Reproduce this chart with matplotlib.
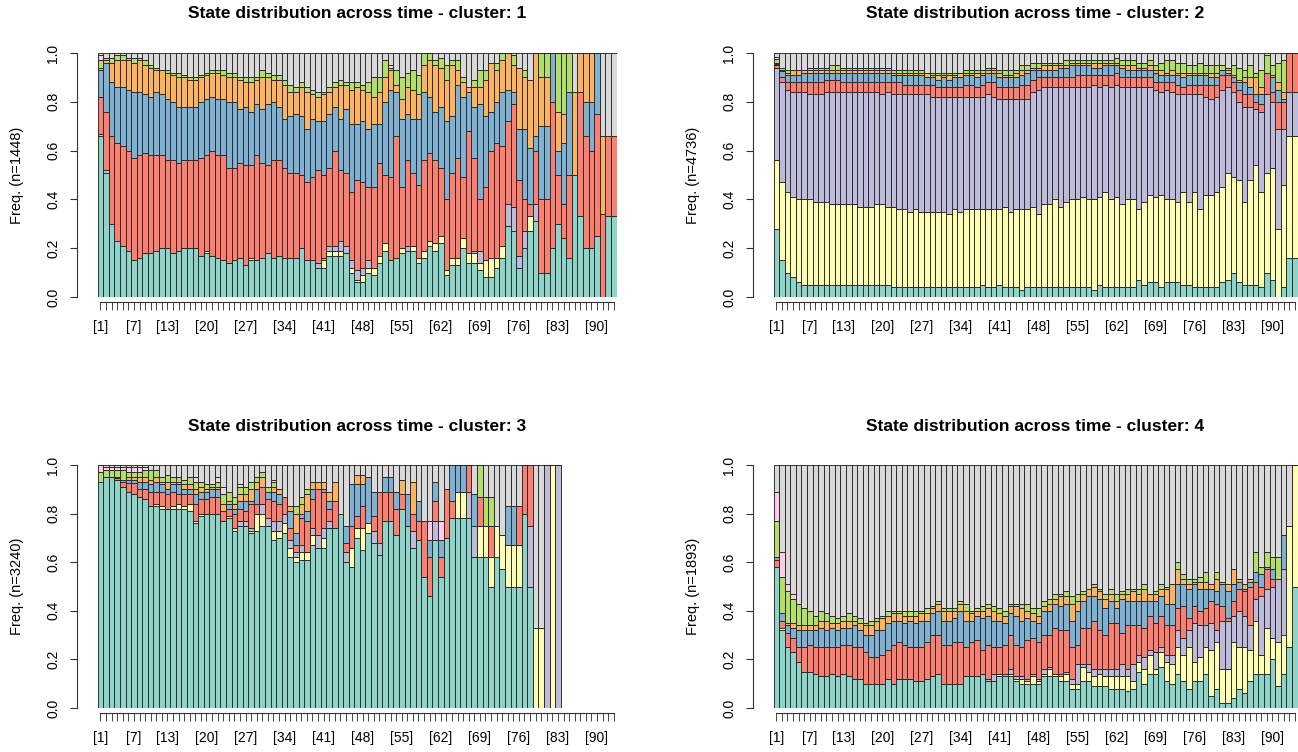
import numpy as np
import matplotlib
matplotlib.use('Agg')
import matplotlib.pyplot as plt

plt.rcParams['font.family'] = ['Liberation Sans', 'DejaVu Sans']

# Set3 colours, stacking order bottom -> top (last one = grey, fills up to 1)
COLORS = ['#8DD3C7', '#FFFFB3', '#BEBADA', '#FB8072', '#80B1D3',
          '#FDB462', '#B3DE69', '#FCCDE5', '#D9D9D9']
EDGE = '#262626'

TICK_LABELS = [1, 7, 13, 20, 27, 34, 41, 48, 55, 62, 69, 76, 83, 90]

# ---- cluster 1 (n=1448): cumulative upper edge of each state per time point ----
p1_teal = [0.66, 0.51, 0.30, 0.23, 0.21, 0.19, 0.15, 0.16, 0.18, 0.18,
           0.19, 0.20, 0.20, 0.18, 0.19, 0.20, 0.20, 0.20, 0.17, 0.18,
           0.17, 0.16, 0.15, 0.14, 0.15, 0.16, 0.13, 0.15, 0.15, 0.16,
           0.18, 0.16, 0.17, 0.16, 0.16, 0.16, 0.20, 0.15, 0.15, 0.12,
           0.12, 0.17, 0.17, 0.17, 0.18, 0.10, 0.06, 0.06, 0.10, 0.09,
           0.14, 0.19, 0.15, 0.16, 0.18, 0.19, 0.19, 0.14, 0.16, 0.21,
           0.19, 0.22, 0.09, 0.13, 0.13, 0.20, 0.14, 0.14, 0.11, 0.08,
           0.08, 0.12, 0.16, 0.29, 0.27, 0.12, 0.20, 0.27, 0.31, 0.10,
           0.10, 0.20, 0.30, 0.24, 0.16, 0.50, 0.33, 0.20, 0.20, 0.25,
           0.00, 0.33, 0.33]
p1_yellow = [0.66, 0.51, 0.30, 0.23, 0.21, 0.19, 0.15, 0.16, 0.18, 0.18,
             0.19, 0.20, 0.20, 0.18, 0.19, 0.20, 0.20, 0.20, 0.17, 0.19,
             0.17, 0.16, 0.15, 0.14, 0.15, 0.16, 0.13, 0.16, 0.15, 0.16,
             0.18, 0.16, 0.17, 0.16, 0.16, 0.16, 0.20, 0.15, 0.15, 0.12,
             0.15, 0.19, 0.19, 0.19, 0.18, 0.12, 0.07, 0.09, 0.12, 0.12,
             0.17, 0.22, 0.15, 0.16, 0.20, 0.19, 0.21, 0.16, 0.19, 0.23,
             0.22, 0.25, 0.11, 0.16, 0.16, 0.24, 0.18, 0.18, 0.14, 0.15,
             0.16, 0.16, 0.21, 0.29, 0.27, 0.12, 0.20, 0.33, 0.31, 0.10,
             0.10, 0.20, 0.30, 0.24, 0.16, 0.50, 0.33, 0.20, 0.20, 0.25,
             0.00, 0.33, 0.33]
p1_lavender = [0.67, 0.52, 0.30, 0.23, 0.21, 0.19, 0.15, 0.16, 0.18, 0.18,
               0.19, 0.20, 0.20, 0.18, 0.19, 0.20, 0.20, 0.20, 0.17, 0.19,
               0.17, 0.16, 0.15, 0.14, 0.15, 0.16, 0.13, 0.16, 0.15, 0.16,
               0.18, 0.16, 0.17, 0.16, 0.16, 0.16, 0.20, 0.15, 0.15, 0.14,
               0.16, 0.21, 0.21, 0.23, 0.21, 0.15, 0.11, 0.12, 0.15, 0.12,
               0.17, 0.22, 0.15, 0.16, 0.20, 0.21, 0.21, 0.16, 0.19, 0.23,
               0.22, 0.25, 0.11, 0.16, 0.16, 0.24, 0.18, 0.19, 0.19, 0.15,
               0.16, 0.16, 0.21, 0.38, 0.37, 0.17, 0.27, 0.33, 0.38, 0.10,
               0.10, 0.20, 0.30, 0.24, 0.16, 0.50, 0.33, 0.20, 0.20, 0.25,
               0.00, 0.33, 0.33]
p1_red = [0.82, 0.76, 0.66, 0.63, 0.62, 0.60, 0.57, 0.58, 0.59, 0.58,
          0.58, 0.58, 0.56, 0.56, 0.55, 0.56, 0.56, 0.56, 0.57, 0.58,
          0.60, 0.58, 0.58, 0.53, 0.53, 0.55, 0.54, 0.54, 0.58, 0.55,
          0.54, 0.56, 0.56, 0.53, 0.51, 0.51, 0.50, 0.47, 0.49, 0.52,
          0.50, 0.53, 0.60, 0.52, 0.51, 0.43, 0.48, 0.47, 0.45, 0.45,
          0.55, 0.50, 0.49, 0.66, 0.45, 0.56, 0.51, 0.46, 0.56, 0.59,
          0.56, 0.53, 0.40, 0.51, 0.57, 0.49, 0.68, 0.57, 0.40, 0.45,
          0.60, 0.63, 0.62, 0.72, 0.79, 0.48, 0.40, 0.38, 0.60, 0.40,
          0.40, 0.80, 0.50, 0.38, 0.50, 0.50, 0.84, 0.66, 0.60, 0.75,
          0.34, 0.66, 0.66]
p1_blue = [0.93, 0.96, 0.88, 0.86, 0.86, 0.85, 0.84, 0.84, 0.83, 0.82,
           0.84, 0.83, 0.81, 0.80, 0.78, 0.78, 0.78, 0.78, 0.80, 0.81,
           0.82, 0.81, 0.81, 0.80, 0.80, 0.77, 0.78, 0.76, 0.79, 0.77,
           0.79, 0.80, 0.78, 0.73, 0.74, 0.75, 0.74, 0.69, 0.73, 0.72,
           0.72, 0.75, 0.78, 0.73, 0.77, 0.71, 0.71, 0.72, 0.69, 0.71,
           0.71, 0.80, 0.85, 0.84, 0.73, 0.75, 0.73, 0.73, 0.84, 0.82,
           0.76, 0.78, 0.72, 0.74, 0.87, 0.82, 0.84, 0.78, 0.79, 0.74,
           0.76, 0.80, 0.84, 0.85, 0.84, 0.69, 0.69, 0.61, 0.66, 0.70,
           0.70, 1.00, 0.60, 0.63, 0.84, 0.50, 0.84, 0.80, 0.80, 1.00,
           0.34, 0.66, 0.66]
p1_orange = [0.94, 0.97, 0.96, 0.97, 0.97, 0.97, 0.96, 0.97, 0.95, 0.94,
             0.93, 0.93, 0.92, 0.91, 0.90, 0.90, 0.89, 0.89, 0.90, 0.91,
             0.92, 0.92, 0.91, 0.90, 0.90, 0.89, 0.88, 0.88, 0.89, 0.90,
             0.90, 0.89, 0.89, 0.87, 0.84, 0.84, 0.86, 0.84, 0.83, 0.82,
             0.83, 0.84, 0.86, 0.87, 0.87, 0.85, 0.86, 0.85, 0.84, 0.82,
             0.84, 0.90, 0.93, 0.87, 0.81, 0.86, 0.85, 0.83, 0.95, 0.97,
             0.95, 0.94, 0.89, 0.95, 0.93, 0.88, 0.86, 0.86, 0.86, 0.89,
             0.96, 0.93, 0.97, 1.00, 0.95, 0.94, 0.90, 0.89, 1.00, 0.90,
             0.90, 1.00, 0.76, 0.75, 0.84, 0.84, 1.00, 1.00, 1.00, 1.00,
             0.66, 0.66, 0.66]
p1_green = [0.97, 0.98, 0.98, 0.99, 0.99, 0.98, 0.98, 0.98, 0.97, 0.95,
            0.94, 0.93, 0.93, 0.92, 0.92, 0.91, 0.90, 0.90, 0.91, 0.92,
            0.93, 0.93, 0.93, 0.92, 0.92, 0.90, 0.90, 0.90, 0.90, 0.93,
            0.92, 0.91, 0.91, 0.89, 0.87, 0.86, 0.88, 0.86, 0.85, 0.84,
            0.84, 0.86, 0.88, 0.89, 0.88, 0.88, 0.88, 0.87, 0.88, 0.90,
            0.90, 0.97, 0.94, 0.93, 0.90, 0.92, 0.93, 0.91, 1.00, 1.00,
            0.97, 0.98, 0.95, 0.97, 0.97, 0.90, 0.86, 0.89, 0.93, 0.93,
            0.96, 0.96, 1.00, 1.00, 0.99, 0.94, 0.93, 0.89, 1.00, 1.00,
            1.00, 1.00, 1.00, 1.00, 1.00, 0.84, 1.00, 1.00, 1.00, 1.00,
            0.66, 0.66, 0.66]
p1_pink = [0.99, 0.98, 0.98, 0.99, 0.99, 0.98, 0.98, 0.98, 0.97, 0.95,
           0.94, 0.93, 0.93, 0.92, 0.92, 0.91, 0.90, 0.90, 0.91, 0.92,
           0.93, 0.93, 0.93, 0.92, 0.92, 0.90, 0.90, 0.90, 0.90, 0.93,
           0.92, 0.91, 0.91, 0.89, 0.87, 0.86, 0.88, 0.86, 0.85, 0.84,
           0.84, 0.86, 0.88, 0.89, 0.88, 0.88, 0.88, 0.87, 0.88, 0.90,
           0.90, 0.97, 0.95, 0.93, 0.90, 0.92, 0.93, 0.91, 1.00, 1.00,
           0.97, 0.98, 0.95, 0.97, 0.97, 0.90, 0.86, 0.89, 0.93, 0.93,
           0.96, 0.96, 1.00, 1.00, 0.99, 0.94, 0.93, 0.89, 1.00, 1.00,
           1.00, 1.00, 1.00, 1.00, 1.00, 0.84, 1.00, 1.00, 1.00, 1.00,
           0.66, 0.66, 0.66]

# ---- cluster 2 (n=4736) ----
p2_teal = [0.28, 0.15, 0.10, 0.08, 0.06, 0.05, 0.05, 0.05, 0.05, 0.05,
           0.05, 0.05, 0.05, 0.05, 0.05, 0.05, 0.05, 0.05, 0.05, 0.05,
           0.05, 0.04, 0.04, 0.04, 0.04, 0.04, 0.04, 0.04, 0.04, 0.04,
           0.04, 0.04, 0.04, 0.04, 0.04, 0.04, 0.04, 0.05, 0.04, 0.04,
           0.05, 0.04, 0.04, 0.04, 0.03, 0.04, 0.04, 0.04, 0.04, 0.04,
           0.04, 0.04, 0.04, 0.04, 0.04, 0.04, 0.04, 0.03, 0.05, 0.04,
           0.04, 0.04, 0.04, 0.04, 0.04, 0.07, 0.05, 0.06, 0.06, 0.04,
           0.06, 0.06, 0.06, 0.05, 0.05, 0.04, 0.04, 0.04, 0.04, 0.04,
           0.06, 0.07, 0.10, 0.06, 0.05, 0.05, 0.05, 0.04, 0.10, 0.07,
           0.00, 0.04, 0.16, 0.16]
p2_yellow = [0.56, 0.47, 0.43, 0.41, 0.40, 0.40, 0.40, 0.39, 0.39, 0.39,
             0.38, 0.38, 0.38, 0.38, 0.38, 0.37, 0.37, 0.37, 0.38, 0.38,
             0.37, 0.37, 0.36, 0.36, 0.35, 0.36, 0.35, 0.35, 0.35, 0.35,
             0.35, 0.34, 0.36, 0.35, 0.36, 0.36, 0.36, 0.36, 0.36, 0.36,
             0.36, 0.37, 0.35, 0.36, 0.36, 0.36, 0.37, 0.34, 0.38, 0.38,
             0.40, 0.37, 0.39, 0.40, 0.40, 0.41, 0.40, 0.40, 0.41, 0.43,
             0.40, 0.41, 0.38, 0.40, 0.40, 0.36, 0.39, 0.42, 0.41, 0.42,
             0.40, 0.40, 0.39, 0.43, 0.39, 0.43, 0.36, 0.42, 0.42, 0.43,
             0.45, 0.51, 0.49, 0.48, 0.39, 0.48, 0.54, 0.43, 0.51, 0.53,
             0.28, 0.46, 0.66, 0.66]
p2_lavender = [0.94, 0.88, 0.85, 0.84, 0.84, 0.84, 0.83, 0.83, 0.83, 0.84,
               0.84, 0.84, 0.84, 0.84, 0.84, 0.84, 0.84, 0.84, 0.84, 0.83,
               0.84, 0.83, 0.83, 0.83, 0.83, 0.83, 0.83, 0.83, 0.82, 0.82,
               0.82, 0.82, 0.82, 0.82, 0.82, 0.82, 0.82, 0.82, 0.83, 0.82,
               0.81, 0.81, 0.81, 0.81, 0.81, 0.81, 0.84, 0.85, 0.86, 0.86,
               0.86, 0.86, 0.86, 0.86, 0.86, 0.86, 0.86, 0.87, 0.86, 0.87,
               0.86, 0.87, 0.86, 0.86, 0.86, 0.86, 0.86, 0.86, 0.85, 0.84,
               0.85, 0.84, 0.83, 0.83, 0.83, 0.83, 0.83, 0.82, 0.81, 0.82,
               0.85, 0.86, 0.84, 0.80, 0.78, 0.78, 0.77, 0.76, 0.83, 0.80,
               0.69, 0.69, 0.84, 0.84]
p2_red = [0.95, 0.90, 0.88, 0.88, 0.88, 0.88, 0.88, 0.88, 0.88, 0.89,
          0.89, 0.89, 0.88, 0.88, 0.88, 0.88, 0.88, 0.88, 0.88, 0.88,
          0.88, 0.88, 0.88, 0.87, 0.87, 0.87, 0.87, 0.87, 0.87, 0.86,
          0.86, 0.86, 0.86, 0.86, 0.87, 0.87, 0.86, 0.87, 0.88, 0.88,
          0.86, 0.86, 0.86, 0.86, 0.87, 0.87, 0.89, 0.90, 0.90, 0.90,
          0.90, 0.90, 0.90, 0.90, 0.91, 0.91, 0.91, 0.91, 0.91, 0.91,
          0.91, 0.92, 0.90, 0.90, 0.90, 0.90, 0.90, 0.90, 0.88, 0.88,
          0.88, 0.88, 0.87, 0.86, 0.87, 0.87, 0.87, 0.87, 0.87, 0.87,
          0.91, 0.91, 0.88, 0.85, 0.83, 0.83, 0.80, 0.79, 0.92, 0.84,
          0.80, 0.80, 1.00, 1.00]
p2_blue = [0.955, 0.925, 0.91, 0.91, 0.91, 0.92, 0.92, 0.92, 0.92, 0.92,
           0.92, 0.92, 0.92, 0.92, 0.92, 0.92, 0.92, 0.92, 0.92, 0.92,
           0.92, 0.91, 0.91, 0.91, 0.91, 0.91, 0.91, 0.90, 0.90, 0.89,
           0.90, 0.89, 0.90, 0.90, 0.91, 0.91, 0.90, 0.91, 0.92, 0.92,
           0.90, 0.90, 0.90, 0.90, 0.91, 0.92, 0.93, 0.93, 0.93, 0.93,
           0.93, 0.94, 0.94, 0.95, 0.95, 0.95, 0.95, 0.94, 0.94, 0.95,
           0.95, 0.95, 0.94, 0.93, 0.93, 0.93, 0.93, 0.93, 0.92, 0.91,
           0.91, 0.91, 0.91, 0.90, 0.91, 0.91, 0.91, 0.91, 0.90, 0.90,
           0.93, 0.92, 0.90, 0.88, 0.88, 0.86, 0.83, 0.83, 0.92, 0.90,
           0.85, 0.81, 1.00, 1.00]
p2_orange = [0.96, 0.93, 0.92, 0.93, 0.93, 0.93, 0.93, 0.93, 0.93, 0.93,
             0.93, 0.93, 0.93, 0.93, 0.93, 0.93, 0.93, 0.93, 0.93, 0.93,
             0.93, 0.92, 0.92, 0.92, 0.92, 0.92, 0.92, 0.92, 0.91, 0.91,
             0.91, 0.91, 0.91, 0.92, 0.92, 0.92, 0.92, 0.92, 0.93, 0.93,
             0.92, 0.91, 0.91, 0.92, 0.93, 0.93, 0.94, 0.94, 0.95, 0.95,
             0.95, 0.95, 0.95, 0.96, 0.96, 0.96, 0.96, 0.96, 0.96, 0.96,
             0.96, 0.96, 0.95, 0.95, 0.95, 0.94, 0.94, 0.95, 0.93, 0.93,
             0.92, 0.93, 0.92, 0.92, 0.92, 0.92, 0.92, 0.92, 0.92, 0.92,
             0.93, 0.93, 0.91, 0.89, 0.90, 0.90, 0.90, 0.86, 0.92, 0.91,
             0.88, 0.84, 1.00, 1.00]
p2_green = [0.975, 0.94, 0.93, 0.93, 0.93, 0.93, 0.94, 0.94, 0.94, 0.94,
            0.95, 0.95, 0.94, 0.94, 0.94, 0.94, 0.94, 0.94, 0.94, 0.94,
            0.94, 0.93, 0.93, 0.93, 0.93, 0.93, 0.93, 0.92, 0.92, 0.92,
            0.92, 0.92, 0.92, 0.92, 0.93, 0.93, 0.93, 0.93, 0.94, 0.94,
            0.93, 0.93, 0.93, 0.93, 0.95, 0.95, 0.96, 0.96, 0.96, 0.96,
            0.96, 0.96, 0.97, 0.97, 0.97, 0.97, 0.97, 0.97, 0.97, 0.97,
            0.97, 0.98, 0.97, 0.97, 0.97, 0.96, 0.96, 0.97, 0.95, 0.96,
            0.97, 0.97, 0.96, 0.96, 0.95, 0.95, 0.96, 0.95, 0.95, 0.95,
            0.95, 0.94, 0.95, 0.94, 0.93, 0.95, 0.92, 0.93, 0.99, 0.95,
            0.96, 0.97, 1.00, 1.00]
p2_pink = [0.985, 0.94, 0.93, 0.93, 0.93, 0.93, 0.94, 0.94, 0.94, 0.94,
           0.95, 0.95, 0.94, 0.94, 0.94, 0.94, 0.94, 0.94, 0.94, 0.94,
           0.94, 0.93, 0.93, 0.93, 0.93, 0.93, 0.93, 0.92, 0.92, 0.92,
           0.92, 0.92, 0.92, 0.92, 0.93, 0.93, 0.93, 0.93, 0.94, 0.94,
           0.93, 0.93, 0.93, 0.93, 0.95, 0.95, 0.96, 0.96, 0.96, 0.96,
           0.96, 0.96, 0.97, 0.97, 0.97, 0.97, 0.97, 0.97, 0.97, 0.97,
           0.97, 0.98, 0.97, 0.97, 0.97, 0.96, 0.96, 0.97, 0.95, 0.96,
           0.97, 0.97, 0.96, 0.96, 0.95, 0.95, 0.96, 0.95, 0.95, 0.95,
           0.95, 0.94, 0.95, 0.94, 0.93, 0.95, 0.92, 0.93, 0.99, 0.95,
           0.96, 0.97, 1.00, 1.00]

# ---- cluster 3 (n=3240): time points after 83 have no observation ----
p3_teal = [0.93, 0.95, 0.95, 0.94, 0.91, 0.89, 0.88, 0.87, 0.86, 0.83,
           0.83, 0.82, 0.82, 0.82, 0.82, 0.82, 0.81, 0.76, 0.79, 0.80,
           0.80, 0.80, 0.77, 0.78, 0.73, 0.75, 0.75, 0.72, 0.73, 0.75,
           0.75, 0.69, 0.70, 0.72, 0.62, 0.60, 0.61, 0.61, 0.67, 0.66,
           0.66, 0.74, 0.74, 0.80, 0.60, 0.58, 0.70, 0.65, 0.72, 0.68,
           0.63, 0.77, 0.77, 0.71, 0.82, 0.75, 0.66, 0.69, 0.54, 0.46,
           0.69, 0.54, 0.70, 0.78, 0.78, 0.78, 0.78, 0.62, 0.62, 0.62,
           0.50, 0.62, 0.57, 0.50, 0.50, 0.50, 0.80, 0.50, 0.00, 0.00,
           0.00, 0.00, 0.00]
p3_yellow = [0.93, 0.95, 0.95, 0.94, 0.91, 0.89, 0.88, 0.87, 0.86, 0.83,
             0.84, 0.83, 0.82, 0.83, 0.84, 0.83, 0.84, 0.77, 0.80, 0.80,
             0.80, 0.80, 0.77, 0.79, 0.74, 0.75, 0.75, 0.73, 0.80, 0.80,
             0.75, 0.73, 0.73, 0.76, 0.66, 0.62, 0.64, 0.64, 0.71, 0.66,
             0.70, 0.74, 0.74, 0.80, 0.60, 0.66, 0.74, 0.74, 0.76, 0.68,
             0.63, 0.77, 0.77, 0.71, 0.82, 0.75, 0.66, 0.69, 0.54, 0.46,
             0.69, 0.54, 0.70, 0.78, 0.89, 0.89, 0.78, 0.62, 0.75, 0.75,
             0.62, 0.75, 0.71, 0.67, 0.67, 0.67, 0.80, 0.50, 0.33, 0.33,
             0.00, 1.00, 0.00]
p3_lavender = [0.93, 0.95, 0.95, 0.94, 0.91, 0.89, 0.88, 0.87, 0.86, 0.83,
               0.84, 0.83, 0.82, 0.83, 0.84, 0.83, 0.84, 0.77, 0.80, 0.80,
               0.80, 0.80, 0.77, 0.79, 0.74, 0.77, 0.77, 0.74, 0.80, 0.84,
               0.78, 0.77, 0.77, 0.80, 0.69, 0.64, 0.67, 0.64, 0.74, 0.71,
               0.74, 0.77, 0.74, 0.80, 0.64, 0.66, 0.74, 0.74, 0.76, 0.73,
               0.68, 0.77, 0.77, 0.71, 0.82, 0.75, 0.73, 0.69, 0.54, 0.46,
               0.77, 0.54, 0.70, 0.78, 0.89, 0.89, 0.89, 0.75, 0.75, 0.75,
               0.62, 0.75, 0.71, 0.67, 0.67, 0.67, 0.80, 0.75, 0.33, 0.33,
               1.00, 1.00, 1.00]
p3_red = [0.93, 0.95, 0.95, 0.945, 0.93, 0.925, 0.925, 0.90, 0.90, 0.89,
          0.89, 0.89, 0.88, 0.89, 0.88, 0.88, 0.88, 0.84, 0.86, 0.86,
          0.87, 0.87, 0.81, 0.82, 0.80, 0.82, 0.81, 0.84, 0.84, 0.91,
          0.86, 0.85, 0.84, 0.87, 0.74, 0.67, 0.78, 0.77, 0.86, 0.90,
          0.89, 0.82, 0.85, 0.80, 0.68, 0.75, 0.79, 0.83, 0.76, 0.79,
          0.89, 0.89, 0.89, 0.82, 0.88, 0.75, 0.80, 0.77, 0.77, 0.62,
          0.85, 0.62, 0.90, 0.85, 0.89, 0.89, 1.00, 0.75, 0.87, 0.75,
          0.75, 0.75, 0.71, 0.67, 0.67, 0.83, 1.00, 1.00, 0.33, 0.33,
          1.00, 1.00, 1.00]
p3_blue = [0.93, 0.95, 0.95, 0.95, 0.94, 0.94, 0.94, 0.93, 0.93, 0.92,
           0.93, 0.92, 0.90, 0.92, 0.92, 0.90, 0.90, 0.88, 0.89, 0.89,
           0.90, 0.90, 0.81, 0.84, 0.82, 0.85, 0.85, 0.85, 0.90, 0.91,
           0.89, 0.89, 0.88, 0.87, 0.81, 0.72, 0.80, 0.81, 0.90, 0.90,
           0.90, 0.85, 0.85, 0.80, 0.75, 0.92, 0.92, 0.92, 0.95, 0.89,
           0.89, 0.95, 0.95, 0.89, 0.88, 0.88, 0.80, 0.85, 0.77, 0.69,
           0.93, 0.69, 0.90, 1.00, 1.00, 1.00, 1.00, 0.88, 0.87, 0.75,
           0.75, 0.75, 0.71, 0.83, 0.83, 0.83, 1.00, 1.00, 0.33, 0.33,
           1.00, 1.00, 1.00]
p3_orange = [0.93, 0.95, 0.95, 0.95, 0.94, 0.95, 0.95, 0.95, 0.95, 0.94,
             0.95, 0.93, 0.93, 0.93, 0.93, 0.92, 0.92, 0.90, 0.91, 0.90,
             0.91, 0.91, 0.84, 0.85, 0.84, 0.88, 0.88, 0.90, 0.93, 0.95,
             0.89, 0.91, 0.90, 0.87, 0.83, 0.80, 0.84, 0.88, 0.93, 0.93,
             0.93, 0.89, 0.93, 0.80, 0.75, 0.92, 0.96, 0.96, 0.95, 0.89,
             0.89, 0.95, 0.95, 0.89, 0.94, 0.88, 0.93, 0.85, 0.77, 0.69,
             0.93, 0.69, 0.90, 1.00, 1.00, 1.00, 1.00, 0.88, 0.87, 0.75,
             0.75, 0.75, 0.71, 0.83, 0.83, 0.83, 1.00, 1.00, 0.33, 0.33,
             1.00, 1.00, 1.00]
p3_green = [0.97, 0.98, 0.98, 0.98, 0.98, 0.97, 0.97, 0.97, 0.98, 0.98,
            0.98, 0.95, 0.96, 0.95, 0.95, 0.94, 0.95, 0.93, 0.93, 0.92,
            0.92, 0.93, 0.88, 0.89, 0.87, 0.91, 0.91, 0.93, 0.95, 0.97,
            0.91, 0.93, 0.90, 0.87, 0.83, 0.83, 0.87, 0.90, 0.93, 0.93,
            0.93, 0.89, 0.93, 0.80, 0.75, 0.92, 0.96, 0.96, 0.95, 0.89,
            0.89, 0.95, 0.95, 0.89, 0.94, 0.88, 0.93, 0.85, 0.77, 0.69,
            0.93, 0.69, 0.90, 1.00, 1.00, 1.00, 1.00, 0.88, 1.00, 0.87,
            0.87, 0.75, 0.71, 0.83, 0.83, 0.83, 1.00, 1.00, 0.33, 0.33,
            1.00, 1.00, 1.00]
p3_pink = [1.00, 0.99, 0.99, 0.99, 0.99, 0.99, 0.99, 0.99, 0.99, 0.98,
           0.98, 0.95, 0.96, 0.95, 0.95, 0.94, 0.95, 0.95, 0.93, 0.92,
           0.92, 0.95, 0.91, 0.89, 0.87, 0.92, 0.91, 0.93, 0.95, 0.97,
           0.91, 0.94, 0.90, 0.87, 0.83, 0.83, 0.87, 0.90, 0.93, 0.93,
           0.93, 0.89, 0.93, 0.80, 0.75, 0.92, 0.96, 0.96, 0.95, 0.89,
           0.89, 0.95, 0.95, 0.89, 0.94, 0.88, 0.93, 0.85, 0.77, 0.77,
           0.93, 0.77, 0.90, 1.00, 1.00, 1.00, 1.00, 0.88, 1.00, 0.87,
           0.87, 0.75, 0.71, 0.83, 0.83, 0.83, 1.00, 1.00, 0.33, 0.33,
           1.00, 1.00, 1.00]

# ---- cluster 4 (n=1893) ----
p4_teal = [0.58, 0.32, 0.25, 0.23, 0.19, 0.15, 0.15, 0.14, 0.13, 0.13,
           0.14, 0.13, 0.14, 0.13, 0.12, 0.12, 0.10, 0.10, 0.10, 0.10,
           0.12, 0.10, 0.12, 0.12, 0.12, 0.11, 0.11, 0.12, 0.13, 0.14,
           0.10, 0.10, 0.10, 0.10, 0.13, 0.13, 0.13, 0.14, 0.11, 0.11,
           0.13, 0.13, 0.13, 0.11, 0.10, 0.10, 0.10, 0.10, 0.13, 0.13,
           0.13, 0.11, 0.11, 0.08, 0.08, 0.11, 0.11, 0.09, 0.09, 0.09,
           0.08, 0.08, 0.08, 0.07, 0.08, 0.15, 0.10, 0.14, 0.14, 0.17,
           0.11, 0.10, 0.14, 0.11, 0.08, 0.11, 0.11, 0.14, 0.05, 0.08,
           0.02, 0.02, 0.04, 0.08, 0.06, 0.11, 0.14, 0.14, 0.14, 0.20,
           0.09, 0.14, 0.25, 0.50]
p4_yellow = [0.58, 0.33, 0.25, 0.23, 0.19, 0.15, 0.15, 0.14, 0.13, 0.13,
             0.14, 0.13, 0.14, 0.13, 0.12, 0.12, 0.10, 0.10, 0.10, 0.10,
             0.12, 0.10, 0.12, 0.12, 0.12, 0.11, 0.11, 0.12, 0.13, 0.14,
             0.10, 0.10, 0.10, 0.10, 0.13, 0.13, 0.13, 0.14, 0.11, 0.11,
             0.14, 0.13, 0.14, 0.12, 0.12, 0.11, 0.13, 0.11, 0.14, 0.16,
             0.14, 0.13, 0.14, 0.10, 0.10, 0.17, 0.15, 0.13, 0.14, 0.13,
             0.13, 0.13, 0.13, 0.13, 0.11, 0.19, 0.16, 0.22, 0.16, 0.23,
             0.19, 0.18, 0.25, 0.22, 0.25, 0.19, 0.21, 0.25, 0.24, 0.27,
             0.16, 0.16, 0.27, 0.25, 0.25, 0.24, 0.36, 0.22, 0.33, 0.29,
             0.27, 0.30, 0.75, 1.00]
p4_lavender = [0.58, 0.33, 0.25, 0.23, 0.19, 0.15, 0.15, 0.14, 0.13, 0.13,
               0.14, 0.13, 0.14, 0.13, 0.12, 0.12, 0.10, 0.10, 0.10, 0.10,
               0.12, 0.10, 0.12, 0.12, 0.12, 0.11, 0.11, 0.12, 0.13, 0.14,
               0.10, 0.10, 0.10, 0.10, 0.13, 0.13, 0.13, 0.14, 0.12, 0.14,
               0.14, 0.14, 0.16, 0.13, 0.13, 0.12, 0.14, 0.12, 0.16, 0.17,
               0.14, 0.14, 0.15, 0.12, 0.18, 0.18, 0.18, 0.16, 0.16, 0.16,
               0.16, 0.16, 0.18, 0.16, 0.18, 0.22, 0.21, 0.24, 0.23, 0.25,
               0.22, 0.22, 0.32, 0.29, 0.32, 0.35, 0.34, 0.34, 0.35, 0.32,
               0.36, 0.36, 0.38, 0.40, 0.38, 0.34, 0.45, 0.46, 0.49, 0.50,
               0.53, 0.57, 0.75, 1.00]
p4_red = [0.61, 0.36, 0.31, 0.29, 0.25, 0.25, 0.26, 0.25, 0.25, 0.25,
          0.25, 0.25, 0.26, 0.26, 0.25, 0.25, 0.23, 0.21, 0.21, 0.22,
          0.24, 0.26, 0.27, 0.26, 0.25, 0.25, 0.25, 0.27, 0.30, 0.30,
          0.26, 0.26, 0.27, 0.27, 0.25, 0.27, 0.28, 0.24, 0.26, 0.25,
          0.25, 0.26, 0.30, 0.26, 0.25, 0.28, 0.29, 0.27, 0.30, 0.30,
          0.33, 0.32, 0.32, 0.25, 0.26, 0.33, 0.33, 0.36, 0.32, 0.30,
          0.35, 0.35, 0.31, 0.34, 0.34, 0.34, 0.33, 0.38, 0.35, 0.38,
          0.34, 0.34, 0.41, 0.42, 0.37, 0.42, 0.40, 0.41, 0.44, 0.43,
          0.42, 0.37, 0.44, 0.49, 0.48, 0.50, 0.52, 0.50, 0.57, 0.53,
          0.53, 0.57, 0.75, 1.00]
p4_blue = [0.62, 0.39, 0.34, 0.33, 0.32, 0.32, 0.32, 0.32, 0.33, 0.32,
           0.33, 0.32, 0.33, 0.33, 0.34, 0.32, 0.30, 0.30, 0.32, 0.32,
           0.35, 0.36, 0.36, 0.35, 0.36, 0.35, 0.36, 0.36, 0.39, 0.40,
           0.36, 0.36, 0.37, 0.40, 0.36, 0.36, 0.38, 0.37, 0.38, 0.36,
           0.36, 0.35, 0.39, 0.38, 0.36, 0.37, 0.36, 0.35, 0.40, 0.40,
           0.43, 0.42, 0.43, 0.36, 0.40, 0.44, 0.46, 0.46, 0.45, 0.41,
           0.44, 0.41, 0.45, 0.44, 0.44, 0.44, 0.44, 0.44, 0.44, 0.46,
           0.43, 0.43, 0.51, 0.51, 0.49, 0.51, 0.49, 0.49, 0.49, 0.48,
           0.51, 0.48, 0.51, 0.52, 0.49, 0.52, 0.56, 0.55, 0.58, 0.57,
           0.53, 0.71, 0.75, 1.00]
p4_orange = [0.62, 0.39, 0.35, 0.35, 0.34, 0.34, 0.34, 0.34, 0.36, 0.36,
             0.35, 0.35, 0.36, 0.36, 0.36, 0.35, 0.34, 0.34, 0.36, 0.37,
             0.38, 0.39, 0.39, 0.38, 0.38, 0.38, 0.39, 0.39, 0.41, 0.43,
             0.40, 0.40, 0.40, 0.43, 0.40, 0.39, 0.40, 0.40, 0.41, 0.40,
             0.39, 0.38, 0.42, 0.42, 0.41, 0.40, 0.39, 0.38, 0.42, 0.43,
             0.45, 0.46, 0.46, 0.43, 0.44, 0.47, 0.49, 0.50, 0.48, 0.45,
             0.47, 0.44, 0.47, 0.47, 0.48, 0.47, 0.49, 0.47, 0.47, 0.49,
             0.49, 0.51, 0.57, 0.53, 0.51, 0.52, 0.52, 0.52, 0.51, 0.53,
             0.52, 0.51, 0.57, 0.53, 0.51, 0.53, 0.56, 0.55, 0.58, 0.57,
             0.53, 0.71, 0.75, 1.00]
p4_green = [0.77, 0.54, 0.48, 0.45, 0.43, 0.41, 0.40, 0.38, 0.40, 0.39,
            0.38, 0.37, 0.38, 0.39, 0.38, 0.37, 0.35, 0.36, 0.37, 0.38,
            0.40, 0.40, 0.40, 0.40, 0.40, 0.40, 0.40, 0.41, 0.42, 0.44,
            0.41, 0.41, 0.41, 0.44, 0.43, 0.40, 0.41, 0.42, 0.43, 0.42,
            0.41, 0.40, 0.43, 0.43, 0.43, 0.43, 0.41, 0.41, 0.44, 0.45,
            0.47, 0.47, 0.48, 0.46, 0.47, 0.48, 0.49, 0.51, 0.49, 0.47,
            0.49, 0.47, 0.48, 0.49, 0.49, 0.49, 0.51, 0.47, 0.48, 0.51,
            0.50, 0.51, 0.60, 0.55, 0.53, 0.53, 0.54, 0.56, 0.51, 0.56,
            0.52, 0.51, 0.57, 0.53, 0.51, 0.53, 0.64, 0.58, 0.64, 0.62,
            0.62, 0.71, 0.75, 1.00]
p4_pink = [0.89, 0.64, 0.51, 0.47, 0.43, 0.41, 0.40, 0.38, 0.40, 0.39,
           0.38, 0.37, 0.38, 0.39, 0.38, 0.37, 0.35, 0.36, 0.37, 0.38,
           0.40, 0.40, 0.40, 0.40, 0.40, 0.40, 0.40, 0.41, 0.42, 0.44,
           0.41, 0.41, 0.41, 0.44, 0.43, 0.40, 0.41, 0.42, 0.43, 0.42,
           0.41, 0.40, 0.43, 0.43, 0.43, 0.43, 0.41, 0.41, 0.44, 0.45,
           0.47, 0.47, 0.48, 0.46, 0.47, 0.48, 0.49, 0.51, 0.49, 0.47,
           0.49, 0.47, 0.48, 0.49, 0.49, 0.49, 0.51, 0.47, 0.48, 0.51,
           0.50, 0.51, 0.60, 0.55, 0.53, 0.53, 0.54, 0.56, 0.51, 0.56,
           0.52, 0.51, 0.57, 0.53, 0.51, 0.53, 0.64, 0.58, 0.64, 0.62,
           0.62, 0.71, 0.75, 1.00]

PANELS = [
    # cluster, n, cumulative tops, n time positions, axes rect in pixels (left, top, width, height)
    ('1', 1448, [p1_teal, p1_yellow, p1_lavender, p1_red, p1_blue, p1_orange, p1_green, p1_pink],
     93, (97.7, 53, 518.8, 244)),
    ('2', 4736, [p2_teal, p2_yellow, p2_lavender, p2_red, p2_blue, p2_orange, p2_green, p2_pink],
     94, (773.5, 53, 524.0, 244)),
    ('3', 3240, [p3_teal, p3_yellow, p3_lavender, p3_red, p3_blue, p3_orange, p3_green, p3_pink],
     93, (97.7, 465, 518.8, 243)),
    ('4', 1893, [p4_teal, p4_yellow, p4_lavender, p4_red, p4_blue, p4_orange, p4_green, p4_pink],
     94, (773.5, 465, 524.0, 243)),
]

W, H = 1298, 752
fig = plt.figure(figsize=(W / 100, H / 100), dpi=100)

for cl, n, tops, npos, (lx, ty, pw, ph) in PANELS:
    ax = fig.add_axes([lx / W, 1 - (ty + ph) / H, pw / W, ph / H])

    cum = np.array(tops, dtype=float)
    nbar = cum.shape[1]
    cum = np.vstack([np.zeros(nbar), cum, np.ones(nbar)])
    cum = np.maximum.accumulate(cum, axis=0)
    heights = np.diff(cum, axis=0)
    x = np.arange(1, nbar + 1)
    for k in range(9):
        ax.bar(x, heights[k], bottom=cum[k], width=1.0, color=COLORS[k],
               edgecolor=EDGE, linewidth=0.65, zorder=2)

    ax.set_xlim(0.5, npos + 0.5)
    ax.set_ylim(0, 1)
    for s in ['top', 'right']:
        ax.spines[s].set_visible(False)
    ax.spines['left'].set_position(('outward', 15))
    ax.spines['left'].set_bounds(0, 1)
    ax.spines['bottom'].set_position(('outward', 3.5))
    ax.spines['bottom'].set_bounds(1, npos)
    for s in ['left', 'bottom']:
        ax.spines[s].set_linewidth(0.8)
        ax.spines[s].set_color('#333333')

    pos = np.arange(1, npos + 1)
    ax.set_xticks(pos)
    ax.set_xticklabels(['[%d]' % p if p in TICK_LABELS else '' for p in pos])
    ax.tick_params(axis='x', length=6, width=0.7, color='#444444',
                   labelsize=10, pad=7)
    ax.set_yticks([0, 0.2, 0.4, 0.6, 0.8, 1.0])
    ax.set_yticklabels(['0.0', '0.2', '0.4', '0.6', '0.8', '1.0'],
                       rotation=90, va='center')
    ax.tick_params(axis='y', length=5, width=0.8, color='#333333',
                   labelsize=10, pad=7)

    fig.text((lx - 80.7) / W, 1 - (ty + ph / 2) / H, 'Freq. (n=%d)' % n,
             rotation=90, ha='center', va='center', fontsize=10.5)
    fig.text((lx + pw / 2) / W, 1 - (ty - 39) / H,
             'State distribution across time - cluster: %s' % cl,
             ha='center', va='center', fontsize=12.5, fontweight='bold')

fig.savefig('out.png', dpi=100, facecolor='white')
